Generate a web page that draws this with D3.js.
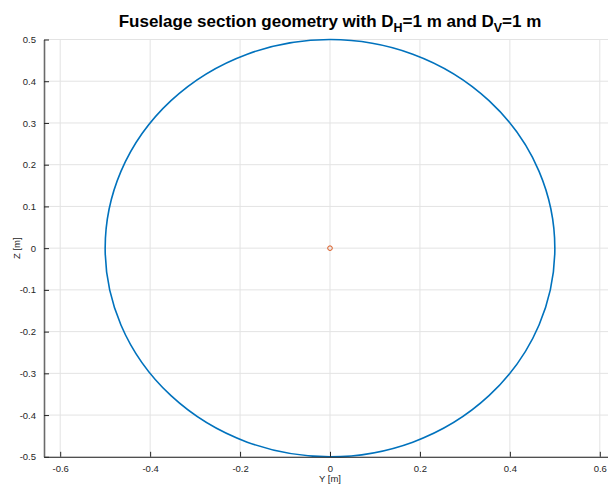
<!DOCTYPE html>
<html>
<head>
<meta charset="utf-8">
<script src="https://cdnjs.cloudflare.com/ajax/libs/d3/7.8.5/d3.min.js"></script>
<style>
  body { margin: 0; background: #fff; }
  svg text { font-family: "Liberation Sans", Arial, sans-serif; }
</style>
</head>
<body>
<svg id="chart" width="608" height="487"></svg>
<script>
// section dimensions [m]
var DH = 1, DV = 1;
var centre = [0, 0];
var xTicks = [-0.6, -0.4, -0.2, 0, 0.2, 0.4, 0.6];
var yTicks = [-0.5, -0.4, -0.3, -0.2, -0.1, 0, 0.1, 0.2, 0.3, 0.4, 0.5];

var svg = d3.select('#chart');
var mLeft = 44, mRight = 616, mTop = 39.5, mBottom = 456.8;

var x = d3.scaleLinear().domain([-0.636, 0.636]).range([mLeft, mRight]);
var y = d3.scaleLinear().domain([-0.5, 0.5]).range([mBottom, mTop]);

function fmt(d) { return String(+d.toFixed(1)); }

// grille
svg.append('g').selectAll('line').data(xTicks).enter().append('line')
  .attr('x1', function(d){ return x(d); }).attr('x2', function(d){ return x(d); })
  .attr('y1', mTop).attr('y2', mBottom)
  .attr('stroke', '#e3e3e3').attr('stroke-width', 1);
svg.append('g').selectAll('line').data(yTicks).enter().append('line')
  .attr('x1', mLeft).attr('x2', mRight)
  .attr('y1', function(d){ return y(d); }).attr('y2', function(d){ return y(d); })
  .attr('stroke', '#e3e3e3').attr('stroke-width', 1);

// ellipse de la section
svg.append('ellipse')
  .attr('cx', x(centre[0])).attr('cy', y(centre[1]))
  .attr('rx', x(DH / 2) - x(0)).attr('ry', y(0) - y(DV / 2))
  .attr('fill', 'none').attr('stroke', '#0072BD').attr('stroke-width', 1.6);

// centre
svg.append('circle')
  .attr('cx', x(centre[0])).attr('cy', y(centre[1])).attr('r', 2.3)
  .attr('fill', 'none').attr('stroke', '#D95319').attr('stroke-width', 1);

// axes
var xAxis = d3.axisBottom(x).tickValues(xTicks).tickSizeInner(-5).tickSizeOuter(0)
  .tickPadding(8).tickFormat(fmt);
var gx = svg.append('g').attr('transform', 'translate(0,' + mBottom + ')').call(xAxis);
var yAxis = d3.axisLeft(y).tickValues(yTicks).tickSizeInner(-5).tickSizeOuter(0)
  .tickPadding(8).tickFormat(fmt);
var gy = svg.append('g').attr('transform', 'translate(' + mLeft + ',0)').call(yAxis);

[gx, gy].forEach(function(g){
  g.select('.domain').attr('stroke', '#262626').attr('stroke-width', 1);
  g.selectAll('.tick line').attr('stroke', '#262626');
  g.selectAll('.tick text').attr('fill', '#262626').style('font-size', '9.5px');
});
gy.select('.domain').attr('stroke', '#6a6a6a').attr('stroke-width', 1.6);

// labels
svg.append('text').attr('x', (mLeft + mRight) / 2).attr('y', 482)
  .attr('text-anchor', 'middle').attr('fill', '#262626').style('font-size', '9.5px').text('Y [m]');
svg.append('text').attr('transform', 'translate(20,' + y(0) + ') rotate(-90)')
  .attr('text-anchor', 'middle').attr('fill', '#262626').style('font-size', '9.5px').text('Z [m]');

// titre
var t = svg.append('text').attr('x', (mLeft + mRight) / 2).attr('y', 27)
  .attr('text-anchor', 'middle').style('font-size', '17px').style('font-weight', 'bold').attr('fill', '#000');
t.append('tspan').text('Fuselage section geometry with D');
t.append('tspan').attr('dy', 5).style('font-size', '12.5px').text('H');
t.append('tspan').attr('dy', -5).text('=1 m and D');
t.append('tspan').attr('dy', 5).style('font-size', '12.5px').text('V');
t.append('tspan').attr('dy', -5).text('=1 m');
</script>
</body>
</html>
